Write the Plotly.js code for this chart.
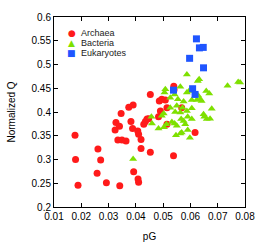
<!DOCTYPE html>
<html>
<head>
<meta charset="utf-8">
<script src="https://cdn.plot.ly/plotly-3.0.1.min.js"></script>
<style>html,body{margin:0;padding:0;background:#fff;}#chart{width:256px;height:242px;}</style>
</head>
<body>
<div id="chart"></div>
<script>
const seriesNames = ["Archaea", "Bacteria", "Eukaryotes"];
const seriesColors = ["#ff1a1a", "#7ee000", "#1f55ff"];

const archaeaX = [0.0177,0.0179,0.0188,0.0261,0.0271,0.0258,0.0292,0.0341,0.0324,0.0327,0.0340,0.0346,0.0334,0.0349,0.0364,0.0374,0.0390,0.0382,0.0388,0.0392,0.0407,0.0410,0.0419,0.0419,0.0408,0.0410,0.0429,0.0435,0.0441,0.0453,0.0453,0.0447,0.0483,0.0490,0.0486,0.0495,0.0508,0.0514,0.0514,0.0539,0.0540,0.0538,0.0568,0.0617];
const archaeaY = [0.351,0.300,0.246,0.322,0.299,0.271,0.251,0.245,0.362,0.378,0.370,0.397,0.341,0.341,0.339,0.410,0.415,0.380,0.365,0.274,0.360,0.353,0.342,0.323,0.259,0.252,0.374,0.380,0.385,0.437,0.315,0.386,0.390,0.402,0.423,0.427,0.425,0.409,0.374,0.454,0.447,0.308,0.409,0.357];

const bacteriaX = [0.0390,0.0457,0.0459,0.0483,0.0495,0.0502,0.0503,0.0512,0.0508,0.0505,0.0526,0.0526,0.0532,0.0542,0.0554,0.0544,0.0550,0.0563,0.0563,0.0566,0.0547,0.0563,0.0571,0.0575,0.0575,0.0581,0.0587,0.0587,0.0595,0.0587,0.0590,0.0590,0.0598,0.0605,0.0605,0.0605,0.0627,0.0632,0.0629,0.0636,0.0641,0.0648,0.0651,0.0658,0.0669,0.0672,0.0660,0.0678,0.0736,0.0775,0.0782,0.0542,0.0550,0.0568,0.0623];
const bacteriaY = [0.301,0.390,0.376,0.365,0.392,0.397,0.368,0.374,0.448,0.441,0.430,0.409,0.379,0.437,0.427,0.400,0.413,0.453,0.399,0.385,0.351,0.355,0.409,0.422,0.381,0.374,0.479,0.441,0.444,0.402,0.390,0.362,0.346,0.425,0.408,0.385,0.465,0.469,0.434,0.427,0.423,0.395,0.390,0.444,0.439,0.386,0.385,0.407,0.455,0.463,0.462,0.376,0.371,0.357,0.425];

const eukaryotesX = [0.0622,0.0633,0.0647,0.0597,0.0648,0.0608,0.0617,0.0538];
const eukaryotesY = [0.554,0.535,0.536,0.513,0.493,0.449,0.437,0.446];

const xTickVals = [0.01,0.02,0.03,0.04,0.05,0.06,0.07,0.08];
const xTickText = ["0.01","0.02","0.03","0.04","0.05","0.06","0.07","0.08"];
const yTickVals = [0.2,0.25,0.3,0.35,0.4,0.45,0.5,0.55,0.6];
const yTickText = ["0.2","0.25","0.3","0.35","0.4","0.45","0.5","0.55","0.6"];
const legendGlyphs = ["\u25CF", "\u25B2", "\u25A0"];

const font = "Liberation Sans, Arial, sans-serif";

const traces = [
  {x: archaeaX, y: archaeaY, name: seriesNames[0], type: "scatter", mode: "markers",
   marker: {symbol: "circle", size: 7, color: seriesColors[0]}},
  {x: bacteriaX, y: bacteriaY, name: seriesNames[1], type: "scatter", mode: "markers",
   marker: {symbol: "triangle-up", size: 7, color: seriesColors[1]}},
  {x: eukaryotesX, y: eukaryotesY, name: seriesNames[2], type: "scatter", mode: "markers",
   marker: {symbol: "square", size: 7, color: seriesColors[2]}}
];

const legendRowsY = [0.916, 0.863, 0.813];
const annotations = [];
seriesNames.forEach((n, i) => {
  annotations.push({xref: "paper", yref: "paper", x: 0.094, y: legendRowsY[i], text: legendGlyphs[i],
    showarrow: false, xanchor: "center", yanchor: "middle",
    font: {family: "DejaVu Sans", size: 9, color: seriesColors[i]}});
  annotations.push({xref: "paper", yref: "paper", x: 0.131, y: legendRowsY[i], text: n,
    showarrow: false, xanchor: "left", yanchor: "middle",
    font: {family: font, size: 9, color: "#222"}});
});

const axisCommon = {
  showline: true, linecolor: "#000", linewidth: 1, mirror: "ticks",
  ticks: "inside", ticklen: 4, tickcolor: "#000", showgrid: false, zeroline: false,
  tickfont: {family: font, size: 10, color: "#000"}
};

const layout = {
  width: 256, height: 242,
  margin: {l: 54, r: 11, t: 17, b: 35},
  paper_bgcolor: "#fff", plot_bgcolor: "#fff",
  showlegend: false,
  xaxis: Object.assign({}, axisCommon, {range: [0.01, 0.08], tickvals: xTickVals, ticktext: xTickText,
    title: {text: "pG", font: {family: font, size: 10, color: "#000"}}}),
  yaxis: Object.assign({}, axisCommon, {range: [0.2, 0.6], tickvals: yTickVals, ticktext: yTickText,
    automargin: true,
    title: {text: "Normalized Q", font: {family: font, size: 10, color: "#000"}, standoff: 14}}),
  annotations: annotations
};

Plotly.newPlot("chart", traces, layout, {displayModeBar: false, staticPlot: true});
</script>
</body>
</html>
